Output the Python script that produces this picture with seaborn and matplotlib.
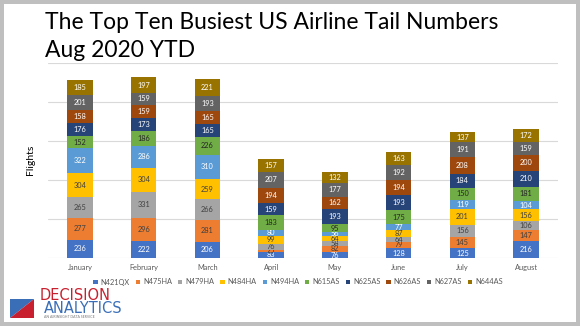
import matplotlib
matplotlib.use("Agg")
import matplotlib.pyplot as plt
import seaborn as sns
import numpy as np
from matplotlib.patches import Rectangle, Polygon

months = ["January", "February", "March", "April", "May", "June", "July", "August"]
tails = ["N421QX", "N475HA", "N479HA", "N484HA", "N494HA",
         "N615AS", "N625AS", "N626AS", "N627AS", "N644AS"]
n421qx = [236, 222, 206, 83, 76, 128, 125, 216]
n475ha = [277, 296, 281, 25, 82, 79, 145, 147]
n479ha = [265, 331, 266, 76, 58, 64, 156, 106]
n484ha = [304, 304, 259, 99, 64, 87, 201, 156]
n494ha = [322, 286, 310, 80, 56, 77, 119, 104]
n615as = [152, 186, 226, 183, 95, 175, 150, 181]
n625as = [176, 173, 165, 159, 193, 193, 184, 210]
n626as = [158, 159, 165, 194, 162, 194, 208, 200]
n627as = [201, 159, 193, 207, 177, 192, 191, 159]
n644as = [185, 197, 221, 157, 132, 163, 137, 172]
series = [n421qx, n475ha, n479ha, n484ha, n494ha, n615as, n625as, n626as, n627as, n644as]

colors = ["#4472C4", "#ED7D31", "#A5A5A5", "#FFC000", "#5B9BD5",
          "#70AD47", "#264478", "#9E480E", "#636363", "#997300"]
label_colors = ["white", "#404040", "#404040", "#404040", "white",
                "#262626", "white", "white", "white", "white"]

sns.set_theme(style="white")
plt.rcParams['font.family'] = ['Lato', 'DejaVu Sans']

W, H = 580, 326
def px(x, y):
    return (x / W, 1 - y / H)

fig = plt.figure(figsize=(5.8, 3.26), dpi=100)
fig.patch.set_facecolor("#BFBFBF")
fig.patches.append(Rectangle(px(4, 322), 572 / W, 318 / H, transform=fig.transFigure,
                             facecolor="white", edgecolor="none", zorder=-5))

ax = fig.add_axes([48 / W, (H - 258) / H, 510 / W, (258 - 62.7) / H])
ax.set_facecolor("none")
ax.set_zorder(2)

bottom = np.zeros(len(months))
for tail, vals, c, tc in zip(tails, series, colors, label_colors):
    sns.barplot(x=months, y=vals, bottom=bottom, color=c, saturation=1,
                width=0.4, ax=ax, linewidth=0, zorder=3)
    cont = ax.containers[-1]
    ax.bar_label(cont, labels=[str(v) for v in vals], label_type="center",
                 fontsize=5.3, color=tc)
    bottom = bottom + np.array(vals)

ax.set_ylim(0, 2500)
ax.set_xlim(-0.5, len(months) - 0.5)
ax.set_yticks(np.arange(0, 2501, 500))
ax.yaxis.grid(True, color="#D9D9D9", linewidth=0.8)
ax.set_axisbelow(True)
for s in ax.spines.values():
    s.set_visible(False)
ax.tick_params(left=False, bottom=False, labelleft=False, labelsize=5.3,
               labelcolor="#595959", pad=4, length=0)
ax.set_xlabel("")
ax.set_ylabel("")

fig.text(*px(31, 160), "Flights", rotation=90, fontsize=7.5, color="black",
         ha="center", va="center")

fig.text(*px(45, 29), "The Top Ten Busiest US Airline Tail Numbers", fontsize=16.5,
         color="#000000", va="baseline", ha="left")
fig.text(*px(45, 57), "Aug 2020 YTD", fontsize=16.5, color="#000000",
         va="baseline", ha="left")

handles = [Rectangle((0, 0), 1, 1, facecolor=c, edgecolor="none") for c in colors]
fig.legend(handles, tails, loc="center", bbox_to_anchor=px(298, 282), ncol=10,
           fontsize=5.3, frameon=False, handlelength=0.6, handleheight=0.6,
           columnspacing=0.8, handletextpad=0.4, labelcolor="#595959",
           borderpad=0)

# logo
fig.patches.append(Polygon([px(10, 299), px(34, 299), px(10, 318)], closed=True,
                           transform=fig.transFigure, facecolor="#3A6FB8", edgecolor="none"))
fig.patches.append(Polygon([px(34, 299), px(34, 318), px(10, 318)], closed=True,
                           transform=fig.transFigure, facecolor="#C8202F", edgecolor="none"))
fig.text(*px(40, 300), "DECISION", fontsize=10.5, color="#C8202F", va="baseline",
         ha="left", family=["Liberation Sans Narrow", "DejaVu Sans"])
fig.text(*px(44, 313), "ANALYTICS", fontsize=10.5, color="#3A6FB8", va="baseline",
         ha="left", family=["Liberation Sans Narrow", "DejaVu Sans"])
fig.text(*px(44, 318), "AN AIRINSIGHT DATA SERVICE", fontsize=2.5, color="#777777",
         va="baseline", ha="left")

fig.savefig("out.png", dpi=100, facecolor=fig.get_facecolor())
